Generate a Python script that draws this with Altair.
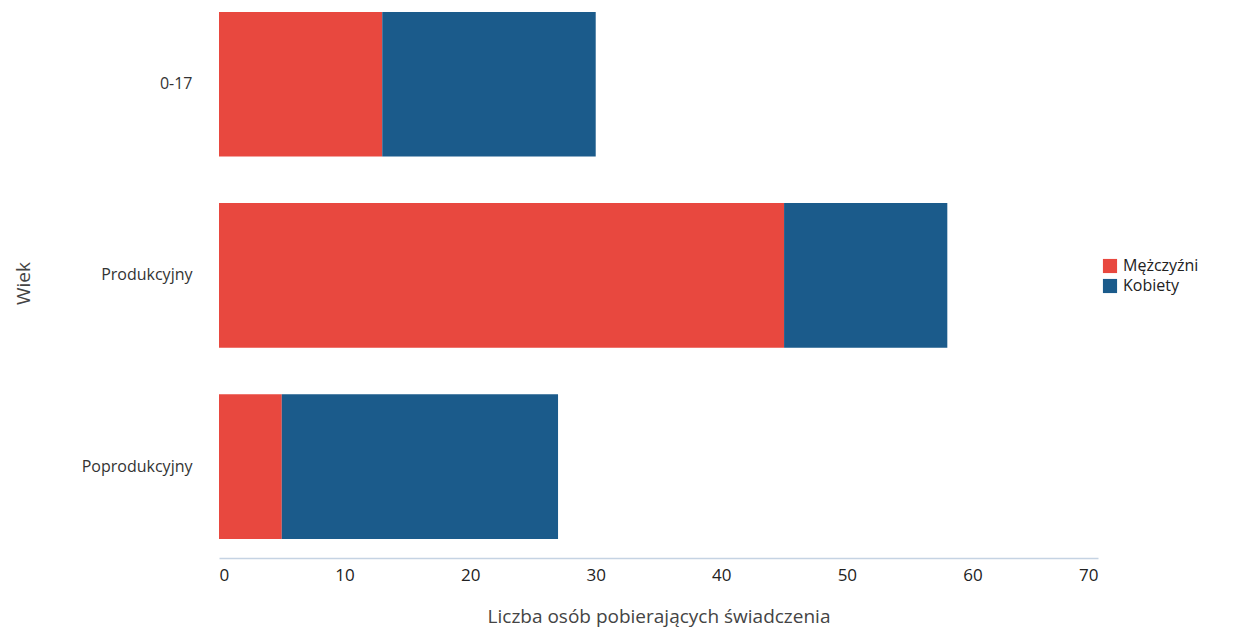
import altair as alt
import pandas as pd

categories = ["0-17", "Produkcyjny", "Poprodukcyjny"]
men = [13, 45, 5]
women = [17, 13, 22]
series = ["Mężczyźni", "Kobiety"]
colors = ["#e8483f", "#1b5b8b"]

rows = []
for c, m, w in zip(categories, men, women):
    rows.append({"Wiek": c, "Płeć": series[0], "value": m, "ord": 0})
    rows.append({"Wiek": c, "Płeć": series[1], "value": w, "ord": 1})
df = pd.DataFrame(rows)

font = "Open Sans"

chart = alt.Chart(df).mark_bar().encode(
    y=alt.Y("Wiek:N", sort=categories,
            scale=alt.Scale(paddingInner=0.243, paddingOuter=0.06, align=0.17),
            axis=alt.Axis(title="Wiek", domain=False, ticks=False, labelPadding=27,
                          labelFontSize=16, labelColor="#333333", labelFont=font,
                          titleFont=font, titleFontSize=19, titleFontWeight="normal",
                          titleColor="#444444", titlePadding=48)),
    x=alt.X("value:Q", stack="zero",
            scale=alt.Scale(domain=[0, 70], nice=False),
            axis=alt.Axis(title="Liczba osób pobierających świadczenia", values=list(range(0, 71, 10)),
                          grid=False, ticks=False, domainColor="#c5d3e3", domainWidth=1.5,
                          labelPadding=9, labelFontSize=17, labelColor="#222222", labelFont=font,
                          titleFont=font, titleFontSize=19, titleFontWeight="normal",
                          titleColor="#444444", titlePadding=24)),
    color=alt.Color("Płeć:N", sort=series,
                    scale=alt.Scale(domain=series, range=colors),
                    legend=alt.Legend(title=None, orient="none", legendX=883, legendY=250,
                                      symbolType="square", symbolSize=200, symbolStrokeWidth=0,
                                      labelFontSize=16, labelFont=font, labelColor="#222222",
                                      rowPadding=4, labelOffset=5, labelLimit=200)),
    order=alt.Order("ord:Q"),
).properties(
    width=879, height=550, padding={"left": 6, "top": 0, "right": 0, "bottom": 4}
).configure_view(stroke=None)

chart.save("out.html", embed_options={"renderer": "svg", "actions": False})
